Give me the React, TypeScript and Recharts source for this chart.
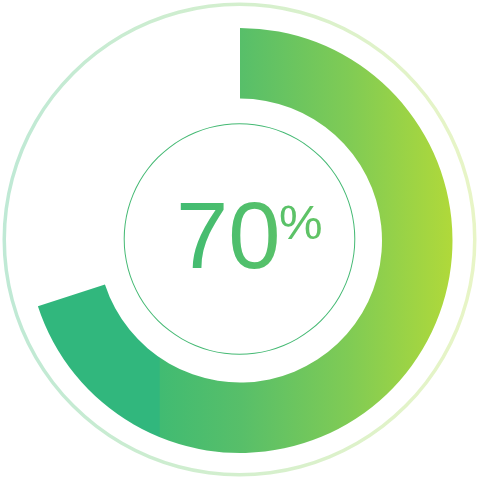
import { PieChart, Pie, Cell, Label } from "recharts"

const progress = [
  { name: "done", value: 70 },
  { name: "rest", value: 30 },
]
const ring = [{ name: "ring", value: 1 }]
const percentText = "70"

export default function App() {
  return (
    <div style={{ position: "absolute", left: 0, top: 0, width: 478, height: 477, background: "#fff" }}>
      <PieChart width={478} height={477} margin={{ top: 0, right: 0, bottom: 0, left: 0 }}>
        <defs>
          <linearGradient id="arcGrad" gradientUnits="userSpaceOnUse" x1="34" y1="0" x2="452" y2="0">
            <stop offset="0" stopColor="#31b77d" />
            <stop offset="0.30" stopColor="#31b77d" />
            <stop offset="0.301" stopColor="#41bb72" />
            <stop offset="0.5" stopColor="#58bf69" />
            <stop offset="0.75" stopColor="#7fcb55" />
            <stop offset="1" stopColor="#b0d93a" />
          </linearGradient>
          <linearGradient id="ringGrad" gradientUnits="userSpaceOnUse" x1="2" y1="0" x2="477" y2="0">
            <stop offset="0" stopColor="#bfe9d5" />
            <stop offset="1" stopColor="#e8f5c6" />
          </linearGradient>
          <linearGradient id="textGrad" gradientUnits="userSpaceOnUse" x1="175" y1="0" x2="325" y2="0">
            <stop offset="0" stopColor="#40bb72" />
            <stop offset="1" stopColor="#63c465" />
          </linearGradient>
        </defs>
        <Pie
          data={ring}
          dataKey="value"
          cx={239.5}
          cy={239.5}
          innerRadius={233.5}
          outerRadius={237}
          stroke="none"
          isAnimationActive={false}
        >
          <Cell fill="url(#ringGrad)" />
        </Pie>
        <Pie
          data={ring}
          dataKey="value"
          cx={239.5}
          cy={239}
          innerRadius={114.8}
          outerRadius={115.8}
          stroke="none"
          isAnimationActive={false}
        >
          <Cell fill="#44b973" />
        </Pie>
        <Pie
          data={progress}
          dataKey="value"
          cx={240}
          cy={240.5}
          innerRadius={142}
          outerRadius={212.5}
          startAngle={90}
          endAngle={-270}
          stroke="none"
          isAnimationActive={false}
        >
          <Cell fill="url(#arcGrad)" />
          <Cell fill="none" />
          <Label
            position="center"
            content={() => (
              <text fontFamily="'Liberation Sans', Arial, sans-serif" fill="url(#textGrad)">
                <tspan x={176} y={268} fontSize={94}>
                  {percentText}
                </tspan>
                <tspan x={279} y={239} fontSize={49}>
                  %
                </tspan>
              </text>
            )}
          />
        </Pie>
      </PieChart>
    </div>
  )
}
